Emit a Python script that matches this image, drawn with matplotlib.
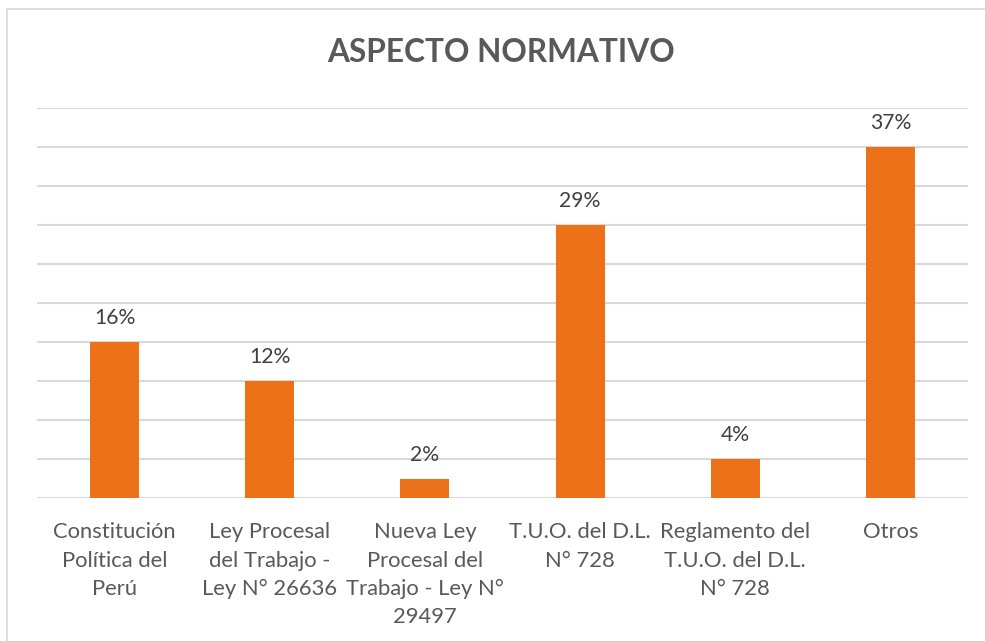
import matplotlib
matplotlib.use("Agg")
import matplotlib.pyplot as plt
from matplotlib.lines import Line2D

categories = ["Constitución\nPolítica del\nPerú",
              "Ley Procesal\ndel Trabajo -\nLey N° 26636",
              "Nueva Ley\nProcesal del\nTrabajo - Ley N°\n29497",
              "T.U.O. del D.L.\nN° 728",
              "Reglamento del\nT.U.O. del D.L.\nN° 728",
              "Otros"]
values = [16.33, 12.24, 2.04, 28.57, 4.08, 36.73]
labels = ["16%", "12%", "2%", "29%", "4%", "37%"]
grid_step = 4.082
y_max = 40.82
title = "ASPECTO NORMATIVO"

W, H = 985, 641
fig = plt.figure(figsize=(W/100, H/100), dpi=100)
font = "Lato"
ax = fig.add_axes([37/W, 1-498/H, (968-37)/W, (498-108)/H])

x = list(range(len(categories)))
ax.bar(x, values, width=0.315, color="#ED7119", zorder=3)
ax.set_xlim(-0.5, len(categories)-0.5)
ax.set_ylim(0, y_max)
ax.set_yticks([grid_step*i for i in range(11)])
ax.yaxis.grid(True, color="#D9D9D9", linewidth=1.5, zorder=0)
ax.tick_params(axis="y", left=False, labelleft=False)
ax.tick_params(axis="x", bottom=False, pad=14)
for s in ax.spines.values():
    s.set_visible(False)
ax.set_xticks(x)
ax.set_xticklabels(categories, fontsize=15.8, color="#595959", family=font,
                   linespacing=1.52, va="top")
for xi, v, lb in zip(x, values, labels):
    ax.annotate(lb, (xi, v), xytext=(0, 10), textcoords="offset points",
                ha="center", va="bottom", fontsize=15.2, color="#404040", family=font)

fig.text(501/W, 1-53/H, title, ha="center", va="center", fontsize=22.8,
         fontweight="bold", color="#595959", family=font)

fig.add_artist(Line2D([7/W, 7/W], [0, 1-9/H], color="#D9D9D9", linewidth=1.2))
fig.add_artist(Line2D([7/W, 1], [1-9/H, 1-9/H], color="#D9D9D9", linewidth=1.2))

fig.savefig("out.png", dpi=100)
